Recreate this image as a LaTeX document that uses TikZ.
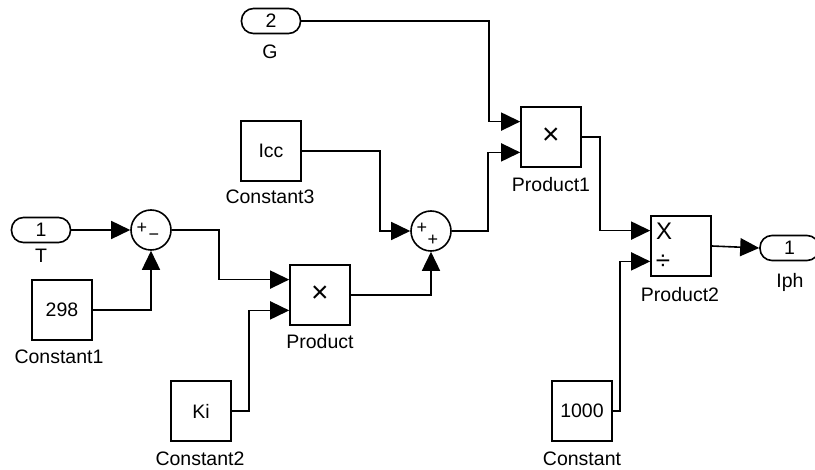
\documentclass[tikz,border=0pt]{standalone}
\usepackage{fontspec}
\setmainfont{Liberation Sans}
\usetikzlibrary{arrows.meta,calc}
\begin{document}
\begin{tikzpicture}[x=1pt,y=-1pt,
  every node/.style={font=\fontsize{19.5}{21}\selectfont, inner sep=0pt},
  wire/.style={line width=1.6pt},
  arr/.style={wire, -{Triangle[length=19pt,width=18pt]}},
  blk/.style={draw, line width=1.6pt, minimum width=60pt, minimum height=60pt},
  portblk/.style={draw, line width=1.6pt, rounded corners=12pt, minimum width=59pt, minimum height=25pt},
  sumblk/.style={draw, circle, line width=1.6pt, minimum size=40pt},
  lbl/.style={font=\fontsize{19.5}{21}\selectfont},
  sgn/.style={font=\fontsize{18}{18}\selectfont},
  mul/.style={font=\fontsize{30}{30}\selectfont}]
\useasboundingbox (0,0) rectangle (815,470);
% blocks
\node[portblk] (inT) at (41,230) {1};
\node[lbl] at (41,256) {T};
\node[sumblk] (sum1) at (151,230) {};
\node[sgn] at (142,228) {+};
\node[sgn] at (154,237) {−};
\node[blk] (c1) at (62,310) {298};
\node[lbl] at (59,357) {Constant1};
\node[blk] (prod) at (320,295) {};
\node[mul] at (320,294) {×};
\node[lbl] at (320,342) {Product};
\node[blk] (c2) at (201,411) {Ki};
\node[lbl] at (200,459) {Constant2};
\node[blk] (c3) at (271,151) {Icc};
\node[lbl] at (270,197) {Constant3};
\node[sumblk] (sum2) at (431,231) {};
\node[sgn] at (422,228) {+};
\node[sgn] at (433,240) {+};
\node[portblk] (inG) at (271,21) {2};
\node[lbl] at (270,52) {G};
\node[blk] (prod1) at (551,137) {};
\node[mul] at (551,136) {×};
\node[lbl] at (551,185) {Product1};
\node[blk] (prod2) at (681,246) {};
\node[font=\fontsize{24}{24}\selectfont] at (664,231) {X};
\node[font=\fontsize{26}{26}\selectfont] at (663,262) {÷};
\node[lbl] at (680,295) {Product2};
\node[blk] (c0) at (582,411) {1000};
\node[lbl] at (582,459) {Constant};
\node[portblk] (outI) at (789.5,248) {1};
\node[lbl] at (790,282) {Iph};
% input port coordinates
\coordinate (pin1) at ($(prod.north west)!0.25!(prod.south west)$);
\coordinate (pin2) at ($(prod.north west)!0.75!(prod.south west)$);
\coordinate (p1in1) at ($(prod1.north west)!0.25!(prod1.south west)$);
\coordinate (p1in2) at ($(prod1.north west)!0.75!(prod1.south west)$);
\coordinate (p2in1) at ($(prod2.north west)!0.25!(prod2.south west)$);
\coordinate (p2in2) at ($(prod2.north west)!0.75!(prod2.south west)$);
% connectors
\draw[arr] (inT.east) -- (sum1.west);
\draw[arr] (c1.east) -| (sum1.south);
\draw[arr] (sum1.east) -- (219,230) |- (pin1);
\draw[arr] (c2.east) -- (249,411) |- (pin2);
\draw[arr] (prod.east) -| (sum2.south);
\draw[arr] (c3.east) -- (380,151) |- (sum2.west);
\draw[arr] (sum2.east) -- (488,231) |- (p1in2);
\draw[arr] (inG.east) -- (489,21) |- (p1in1);
\draw[arr] (prod1.east) -- (600,137) |- (p2in1);
\draw[arr] (c0.east) -- (620,411) |- (p2in2);
\draw[arr] (prod2.east) -- (outI.west);
\end{tikzpicture}
\end{document}
